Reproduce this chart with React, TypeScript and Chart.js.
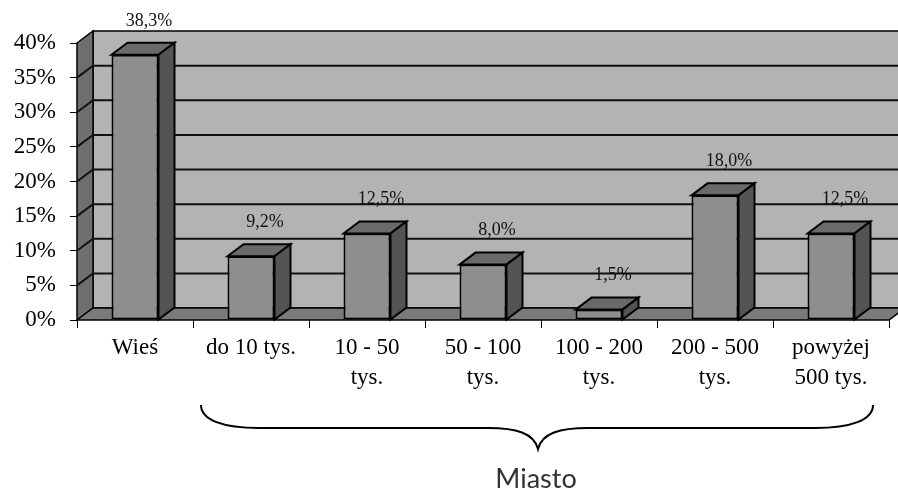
import React, { useEffect, useRef } from "react";
import { Chart, registerables } from "chart.js";

Chart.register(...registerables);

const categories: (string | string[])[] = [
  "Wieś",
  "do 10 tys.",
  ["10 - 50", "tys."],
  ["50 - 100", "tys."],
  ["100 - 200", "tys."],
  ["200 - 500", "tys."],
  ["powyżej", "500 tys."],
];
const values: number[] = [38.3, 9.2, 12.5, 8.0, 1.5, 18.0, 12.5];
const yTicks: number[] = [0, 5, 10, 15, 20, 25, 30, 35, 40];
const groupLabel = "Miasto";

const DX = 16;
const DY = -12;

const COLORS = {
  backWall: "#b3b3b3",
  sideWall: "#6f6f6f",
  floor: "#7b7b7b",
  front: "#8e8e8e",
  top: "#6a6a6a",
  side: "#545454",
};

function poly(ctx: CanvasRenderingContext2D, pts: number[][], fill: string, lw = 1.5) {
  ctx.beginPath();
  ctx.moveTo(pts[0][0], pts[0][1]);
  for (let i = 1; i < pts.length; i++) ctx.lineTo(pts[i][0], pts[i][1]);
  ctx.closePath();
  ctx.fillStyle = fill;
  ctx.fill();
  ctx.lineWidth = lw;
  ctx.strokeStyle = "#000";
  ctx.lineJoin = "miter";
  ctx.stroke();
}

const threeD = {
  id: "threeD",
  beforeDraw(chart: any) {
    const { ctx, chartArea, scales } = chart;
    const y = scales.y;
    const L = chartArea.left, R = chartArea.right;
    const T = y.getPixelForValue(yTicks[yTicks.length - 1]);
    const B = y.getPixelForValue(0);
    ctx.save();
    poly(ctx, [[L + DX, T + DY], [R + DX, T + DY], [R + DX, B + DY], [L + DX, B + DY]], COLORS.backWall);
    poly(ctx, [[L, T], [L + DX, T + DY], [L + DX, B + DY], [L, B]], COLORS.sideWall);
    poly(ctx, [[L, B], [L + DX, B + DY], [R + DX, B + DY], [R, B]], COLORS.floor);
    ctx.strokeStyle = "#111";
    ctx.lineWidth = 2;
    for (const v of yTicks) {
      if (v === 0 || v === yTicks[yTicks.length - 1]) continue;
      const yf = y.getPixelForValue(v);
      ctx.beginPath();
      ctx.moveTo(L, yf);
      ctx.lineTo(L + DX, yf + DY);
      ctx.lineTo(R + DX + 20, yf + DY);
      ctx.stroke();
    }
    ctx.restore();
  },
  afterDatasetsDraw(chart: any) {
    const { ctx } = chart;
    const meta = chart.getDatasetMeta(0);
    ctx.save();
    meta.data.forEach((bar: any) => {
      const p = bar.getProps(["x", "y", "base", "width"], true);
      const l = p.x - p.width / 2;
      const r = p.x + p.width / 2;
      const t = p.y;
      const b = p.base;
      poly(ctx, [[l, t], [l + DX, t + DY], [r + DX, t + DY], [r, t]], COLORS.top, 2);
      poly(ctx, [[r, t], [r + DX, t + DY], [r + DX, b + DY], [r, b]], COLORS.side, 2);
    });
    ctx.restore();
  },
  afterDraw(chart: any) {
    const { ctx, scales } = chart;
    const meta = chart.getDatasetMeta(0);
    ctx.save();
    ctx.fillStyle = "#111";
    ctx.font = "18px 'Liberation Serif', serif";
    ctx.textAlign = "center";
    ctx.textBaseline = "middle";
    meta.data.forEach((bar: any, i: number) => {
      const p = bar.getProps(["x", "y"], true);
      const txt = values[i].toFixed(1).replace(".", ",") + "%";
      ctx.fillText(txt, p.x + 14, p.y - 34);
    });
    const x = scales.x;
    const half = (x.getPixelForValue(1) - x.getPixelForValue(0)) / 2;
    const x0 = x.getPixelForValue(1) - half + 8;
    const x1 = x.getPixelForValue(categories.length - 1) + half - 16;
    const mid = (x0 + x1) / 2 + 1;
    const yTop = 405;
    const yLine = 428;
    const yTip = 449;
    ctx.strokeStyle = "#000";
    ctx.lineWidth = 2;
    ctx.beginPath();
    ctx.moveTo(x0, yTop);
    ctx.bezierCurveTo(x0, yTop + 15, x0 + 22, yLine, x0 + 58, yLine);
    ctx.lineTo(mid - 50, yLine);
    ctx.bezierCurveTo(mid - 22, yLine, mid - 4, yLine + 5, mid, yTip);
    ctx.bezierCurveTo(mid + 4, yLine + 5, mid + 22, yLine, mid + 50, yLine);
    ctx.lineTo(x1 - 58, yLine);
    ctx.bezierCurveTo(x1 - 22, yLine, x1, yTop + 15, x1, yTop);
    ctx.stroke();
    ctx.fillStyle = "#333";
    ctx.font = "27px Lato, 'Noto Sans', sans-serif";
    ctx.textAlign = "center";
    ctx.textBaseline = "alphabetic";
    ctx.fillText(groupLabel, mid - 2, 488);
    ctx.restore();
  },
};

export default function App() {
  const ref = useRef<HTMLCanvasElement | null>(null);
  useEffect(() => {
    if (!ref.current) return;
    const chart = new Chart(ref.current, {
      type: "bar",
      data: {
        labels: categories,
        datasets: [
          {
            data: values,
            backgroundColor: COLORS.front,
            borderColor: "#000",
            borderWidth: 2,
            borderSkipped: false,
            categoryPercentage: 1,
            barPercentage: 0.405,
          },
        ],
      },
      options: {
        animation: false,
        responsive: false,
        events: [],
        layout: { padding: { top: 43, right: 9, left: 0, bottom: 0 } },
        plugins: { legend: { display: false }, tooltip: { enabled: false } },
        scales: {
          x: {
            offset: true,
            grid: { offset: true, drawOnChartArea: false, tickLength: 8, color: "#000", lineWidth: 1 },
            border: { display: false },
            ticks: {
              color: "#000",
              autoSkip: false,
              maxRotation: 0,
              minRotation: 0,
              padding: 5,
              font: { family: "'Liberation Serif', serif", size: 23, lineHeight: 1.3 },
            },
            afterFit(scale: any) {
              scale.height = 170;
            },
          },
          y: {
            min: 0,
            max: 40,
            grid: { drawOnChartArea: false, tickLength: 7, color: "#000", lineWidth: 1 },
            border: { display: false },
            ticks: {
              stepSize: 5,
              color: "#000",
              padding: 14,
              font: { family: "'Liberation Serif', serif", size: 23 },
              callback: (v: any) => v + "%",
            },
            afterFit(scale: any) {
              scale.width = 77;
            },
          },
        },
      },
      plugins: [threeD],
    });
    return () => chart.destroy();
  }, []);
  return (
    <div style={{ position: "absolute", left: 0, top: 0, width: 898, height: 490, background: "#fff" }}>
      <canvas ref={ref} width={898} height={490} />
    </div>
  );
}
